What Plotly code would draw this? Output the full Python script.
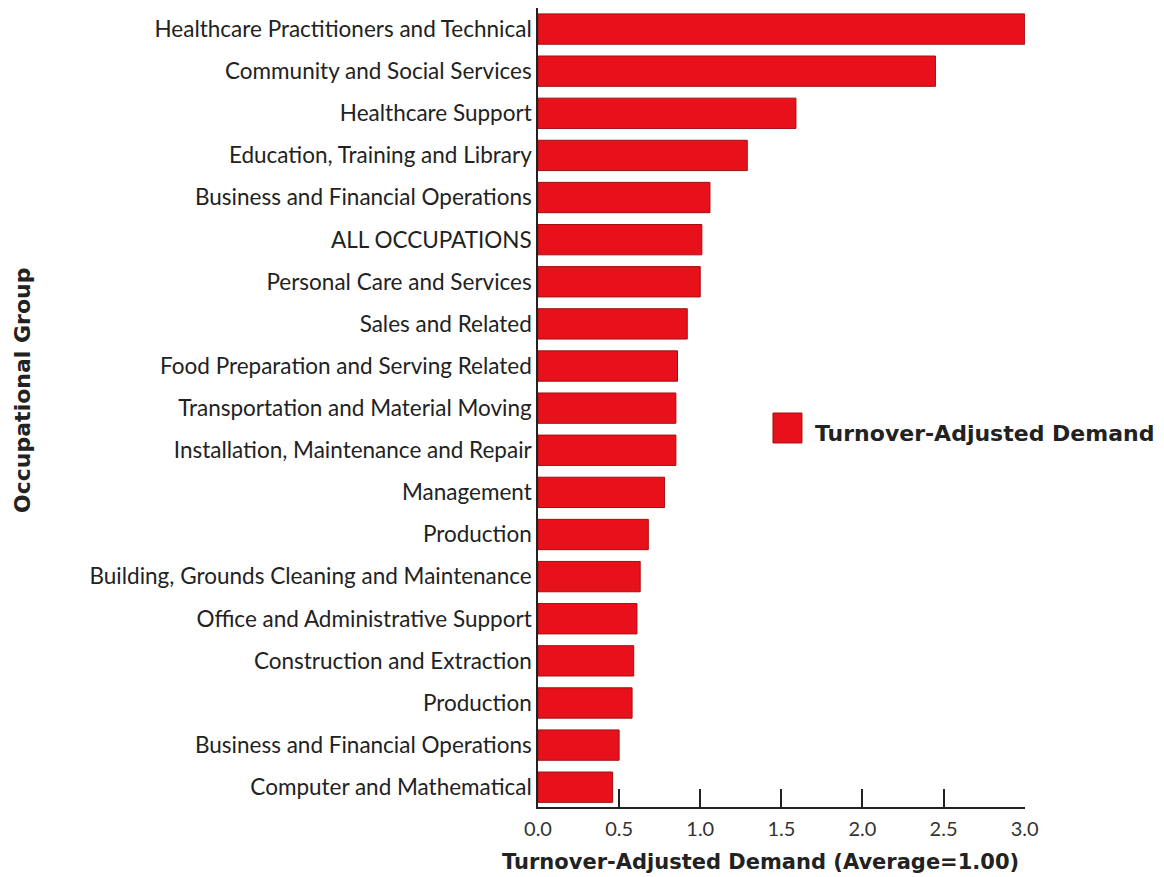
import plotly.graph_objects as go

categories = [
    "Healthcare Practitioners and Technical",
    "Community and Social Services",
    "Healthcare Support",
    "Education, Training and Library",
    "Business and Financial Operations",
    "ALL OCCUPATIONS",
    "Personal Care and Services",
    "Sales and Related",
    "Food Preparation and Serving Related",
    "Transportation and Material Moving",
    "Installation, Maintenance and Repair",
    "Management",
    "Production",
    "Building, Grounds Cleaning and Maintenance",
    "Office and Administrative Support",
    "Construction and Extraction",
    "Production",
    "Business and Financial Operations",
    "Computer and Mathematical",
]
demand = [3.00, 2.45, 1.59, 1.29, 1.06, 1.01, 1.00, 0.92, 0.86, 0.85, 0.85,
          0.78, 0.68, 0.63, 0.61, 0.59, 0.58, 0.50, 0.46]
x_ticks = [0.0, 0.5, 1.0, 1.5, 2.0, 2.5, 3.0]
x_tick_labels = ["0.0", "0.5", "1.0", "1.5", "2.0", "2.5", "3.0"]
series_name = "Turnover-Adjusted Demand"

positions = list(range(len(categories)))
FONT = "Lato"
BOLD = "DejaVu Sans"
RED = "#e8111b"

fig = go.Figure()
fig.add_trace(go.Bar(
    x=demand, y=positions, orientation="h", name=series_name,
    width=0.72,
    marker=dict(color=RED, line=dict(color="#a01010", width=1)),
    showlegend=False,
))

fig.update_layout(
    width=1156, height=869,
    margin=dict(l=530, r=139, t=0, b=70),
    paper_bgcolor="white", plot_bgcolor="white",
    font=dict(family=FONT, color="#222"),
    xaxis=dict(
        range=[0, 3.002], tickvals=x_ticks, ticktext=x_tick_labels,
        ticks="inside", ticklen=18, tickwidth=1.5, tickcolor="#222",
        showline=True, linecolor="#222", linewidth=1.5,
        showgrid=False, zeroline=False, ticklabelstandoff=3,
        tickfont=dict(size=20, color="#333"),
    ),
    yaxis=dict(
        range=[len(categories) - 0.53, -0.5],
        tickvals=positions, ticktext=categories,
        showline=True, linecolor="#222", linewidth=1.5,
        showgrid=False, zeroline=False, ticks="",
        tickfont=dict(size=22.5, color="#222"),
    ),
    annotations=[
        dict(text="<b>Turnover-Adjusted Demand (Average=1.00)</b>",
             xref="paper", yref="paper", x=0.456, y=-0.0685,
             xanchor="center", yanchor="middle", showarrow=False,
             font=dict(size=21, color="#222", family=BOLD)),
        dict(text="<b>Occupational Group</b>", textangle=-90,
             xref="paper", yref="paper", x=-1.0575, y=0.522,
             xanchor="center", yanchor="middle", showarrow=False,
             font=dict(size=22, color="#222", family=BOLD)),
        dict(text="<b>" + series_name + "</b>",
             xref="paper", yref="paper", x=0.5647, y=0.468,
             xanchor="left", yanchor="middle", showarrow=False,
             font=dict(size=22, color="#222", family=BOLD)),
    ],
    shapes=[
        dict(type="rect", xref="paper", yref="paper",
             x0=0.4825, x1=0.542, y0=0.4556, y1=0.4931,
             fillcolor=RED, line=dict(color="#a01010", width=1)),
    ],
)

fig.write_html("out.html")
